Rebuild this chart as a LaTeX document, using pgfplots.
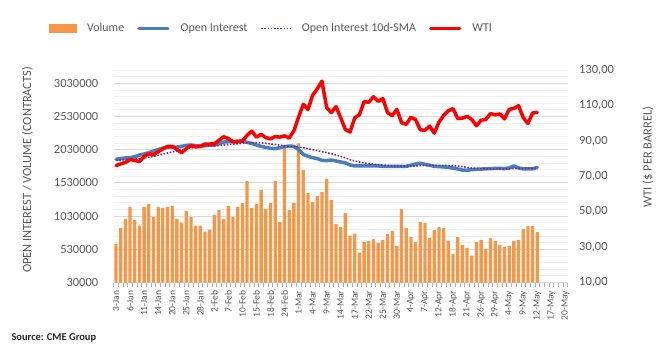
\documentclass[border=0pt]{standalone}
\usepackage{fontspec}
\setmainfont{Carlito}
\usepackage{pgfplots}
\usepackage{pgfplotstable}
\pgfplotsset{compat=1.18}
\definecolor{vol}{HTML}{F79646}
\definecolor{oi}{HTML}{4A7EBB}
\definecolor{sma}{HTML}{7030A0}
\definecolor{wti}{HTML}{FF0000}
\definecolor{txt}{HTML}{595959}
\definecolor{gmaj}{HTML}{D9D9D9}
\definecolor{gmin}{HTML}{F0F0F0}
\pgfplotstableread{
idx vol oi sma wti
0 615000 1885000 1871500 76.0
1 850000 1895000 1874000 77.0
2 985000 1905000 1877500 77.8
3 1170000 1910000 1881500 79.4
4 970000 1925000 1887000 78.9
5 885000 1950000 1895000 78.3
6 1170000 1965000 1904500 81.2
7 1210000 1985000 1916000 82.6
8 1020000 2010000 1930000 82.1
9 1170000 2030000 1946000 83.8
10 1155000 2055000 1963000 85.4
11 1170000 2065000 1980000 86.9
12 1185000 2070000 1996500 86.9
13 985000 2070000 2012500 85.1
14 930000 2080000 2028000 83.3
15 1105000 2095000 2042500 85.6
16 1020000 2100000 2056000 87.3
17 885000 2090000 2066500 86.6
18 885000 2085000 2074000 86.8
19 795000 2090000 2080000 88.2
20 825000 2095000 2084000 88.2
21 1050000 2100000 2087500 88.3
22 1120000 2120000 2092500 90.3
23 985000 2145000 2100000 92.3
24 1185000 2150000 2107000 91.3
25 1020000 2150000 2112500 89.4
26 1170000 2155000 2118000 89.7
27 1225000 2160000 2125000 89.9
28 1555000 2140000 2130500 93.1
29 1155000 2125000 2134000 95.5
30 1215000 2100000 2134500 92.1
31 1420000 2080000 2132500 93.7
32 1135000 2065000 2127000 91.8
33 1225000 2050000 2117500 91.1
34 1555000 2045000 2107000 92.4
35 940000 2060000 2098000 92.1
36 2060000 2075000 2090000 92.8
37 1120000 2085000 2082500 91.6
38 1225000 2080000 2076500 95.7
39 2125000 2030000 2067000 103.4
40 1725000 1960000 2060000 110.6
41 1375000 1930000 2045000 107.7
42 1240000 1910000 2030000 115.7
43 1330000 1895000 2015000 119.4
44 1390000 1870000 2000000 123.7
45 1590000 1865000 1985000 108.7
46 1270000 1875000 1970000 106.0
47 910000 1860000 1950000 109.3
48 865000 1845000 1930000 103.0
49 1075000 1830000 1905000 96.4
50 735000 1800000 1880000 95.0
51 765000 1785000 1860000 103.0
52 480000 1785000 1845000 104.7
53 640000 1785000 1830000 112.1
54 655000 1785000 1820000 111.8
55 685000 1785000 1812000 114.9
56 625000 1785000 1805000 112.3
57 670000 1780000 1797000 113.9
58 760000 1780000 1790000 106.0
59 805000 1778000 1784800 104.2
60 580000 1778000 1782600 107.8
61 1135000 1778000 1781900 100.3
62 850000 1780000 1781400 99.3
63 715000 1795000 1782400 103.3
64 640000 1815000 1785400 102.0
65 940000 1825000 1789400 96.2
66 925000 1810000 1791900 96.0
67 700000 1795000 1793400 98.3
68 820000 1780000 1793400 94.3
69 865000 1775000 1793100 100.6
70 850000 1770000 1792300 104.3
71 655000 1765000 1791000 107.0
72 460000 1752000 1788200 108.2
73 715000 1740000 1782700 102.6
74 595000 1722000 1773400 102.8
75 550000 1720000 1762900 103.8
76 435000 1730000 1754900 102.1
77 640000 1735000 1748900 98.5
78 670000 1738000 1744700 101.7
79 535000 1742000 1741400 102.0
80 700000 1745000 1738900 105.4
81 655000 1748000 1737200 104.7
82 595000 1750000 1737000 105.2
83 565000 1745000 1737500 102.4
84 580000 1755000 1740800 107.8
85 655000 1785000 1747300 108.3
86 670000 1755000 1749800 109.8
87 835000 1740000 1750300 103.1
88 880000 1740000 1750500 99.8
89 880000 1742000 1750500 105.7
90 790000 1762000 1752200 106.1
}\datatable
\begin{document}
\begin{tikzpicture}
\useasboundingbox (0,0) rectangle (670bp,358bp);
\begin{axis}[
  at={(113.7bp,75.5bp)}, anchor=south west,
  scale only axis, width=454bp, height=212.5bp,
  xmin=-0.5, xmax=96.5, ymin=30000, ymax=3230000,
  axis line style={draw=none},
  scaled y ticks=false,
  xtick={-0.5,0.5,...,96.5}, xticklabels={},
  extra x ticks={0,3,...,96},
  extra x tick labels={3-Jan,6-Jan,11-Jan,14-Jan,20-Jan,25-Jan,28-Jan,2-Feb,7-Feb,10-Feb,15-Feb,18-Feb,24-Feb,1-Mar,4-Mar,9-Mar,14-Mar,17-Mar,22-Mar,25-Mar,30-Mar,4-Apr,7-Apr,12-Apr,18-Apr,21-Apr,26-Apr,29-Apr,4-May,9-May,12-May,17-May,20-May},
  extra x tick style={major tick length=0pt},
  xtick pos=bottom, tick align=outside,
  major tick length=4bp, minor tick length=0pt,
  xtick style={gmaj!80!black, line width=0.75bp},
  xticklabel style={font=\fontsize{9.6}{11}\selectfont, text=txt, rotate=90, anchor=east, inner xsep=8bp, inner ysep=0pt},
  ytick={30000,530000,1030000,1530000,2030000,2530000,3030000},
  yticklabels={30000,530000,1030000,1530000,2030000,2530000,3030000},
  minor ytick={130000,230000,330000,430000,630000,730000,830000,930000,1130000,1230000,1330000,1430000,1630000,1730000,1830000,1930000,2130000,2230000,2330000,2430000,2630000,2730000,2830000,2930000,3130000,3230000},
  ytick pos=left,
  ytick style={draw=none},
  yticklabel style={font=\fontsize{12.5}{15}\selectfont, text=txt, xshift=-8bp},
  ymajorgrids, yminorgrids,
  major grid style={gmaj, line width=0.8bp},
  minor grid style={gmin, line width=0.8bp},
  ylabel={OPEN INTEREST / VOLUME (CONTRACTS)},
  ylabel style={font=\fontsize{12.5}{15}\selectfont, text=txt, at={(axis description cs:-0.19,0.53)}, anchor=center},
  clip=false,
]
\addplot[ybar, bar width=3.3bp, fill=vol, draw=none] table[x=idx,y=vol]{\datatable};
\addplot[oi, line width=3.5bp, line join=round, line cap=round, mark=none] table[x=idx,y=oi]{\datatable};
\addplot[sma, line width=1.6bp, dash pattern=on 1.6bp off 1.6bp, mark=none] table[x=idx,y=sma]{\datatable};
\end{axis}
\begin{axis}[
  at={(113.7bp,75.5bp)}, anchor=south west,
  scale only axis, width=454bp, height=212.5bp,
  xmin=-0.5, xmax=96.5, ymin=10, ymax=130,
  axis x line=none, axis y line*=right,
  y axis line style={draw=none},
  ytick={10,30,50,70,90,110,130},
  yticklabels={{10,00},{30,00},{50,00},{70,00},{90,00},{110,00},{130,00}},
  ytick style={draw=none},
  yticklabel style={font=\fontsize{12.5}{15}\selectfont, text=txt, xshift=8bp},
  ylabel={WTI (\$ PER BARREL)},
  ylabel style={font=\fontsize{12.5}{15}\selectfont, text=txt, at={(axis description cs:1.177,0.59)}, anchor=center},
  legend image code/.code={\draw[#1] (0bp,0bp) -- (29bp,0bp);},
  legend columns=4,
  legend style={at={(axis description cs:0.345,1.195)}, anchor=center, draw=none, fill=none,
    font=\fontsize{12}{14}\selectfont, text=txt,
    nodes={inner sep=0pt, anchor=west},
    /tikz/every odd column/.append style={column sep=11bp},
    /tikz/every even column/.append style={column sep=13bp}},
]
\addlegendimage{legend image code/.code={\fill[vol] (0bp,-4bp) rectangle (27bp,4bp);}}
\addlegendentry{Volume}
\addlegendimage{oi, line width=3.5bp, line cap=round}
\addlegendentry{Open Interest}
\addlegendimage{sma, line width=1.6bp, dash pattern=on 1.6bp off 1.6bp}
\addlegendentry{Open Interest 10d-SMA}
\addplot[wti, line width=3.5bp, line join=round, line cap=round, mark=none] table[x=idx,y=wti]{\datatable};
\addlegendentry{WTI}
\end{axis}
\node[anchor=west, font=\fontsize{10.5}{12}\selectfont\bfseries, text=black!85] at (8bp,20bp) {Source: CME Group};
\end{tikzpicture}
\end{document}
